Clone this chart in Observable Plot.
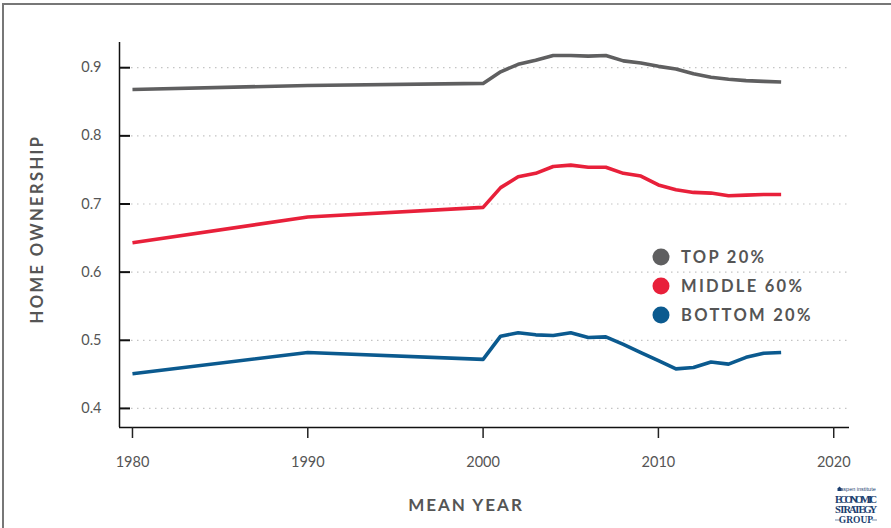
<!DOCTYPE html>
<html>
<head>
<meta charset="utf-8">
<script src="https://cdn.jsdelivr.net/npm/d3@7"></script>
<script src="https://cdn.jsdelivr.net/npm/@observablehq/plot@0.6"></script>
<style>
  html, body { margin: 0; padding: 0; background: #fff; }
  #wrap { position: relative; width: 891px; height: 528px; overflow: hidden; }
  #edge { position: absolute; left: 2px; top: 3px; right: -4px; bottom: -4px;
          border-top: 2px solid #777; border-left: 2px solid #777; pointer-events: none; }
</style>
</head>
<body>
<div id="wrap"><div id="edge"></div></div>
<script>
// Mean survey year of each observation
const years = [1980, 1990, 2000, 2001, 2002, 2003, 2004, 2005, 2006, 2007, 2008, 2009,
               2010, 2011, 2012, 2013, 2014, 2015, 2016, 2017];

// Home ownership rate by income group
const top20 = [0.868, 0.874, 0.877, 0.894, 0.905, 0.911, 0.918, 0.918, 0.917, 0.918, 0.910, 0.907,
               0.902, 0.898, 0.891, 0.886, 0.883, 0.881, 0.880, 0.879];
const middle60 = [0.643, 0.681, 0.695, 0.724, 0.740, 0.745, 0.755, 0.757, 0.754, 0.754, 0.745, 0.741,
                  0.728, 0.721, 0.717, 0.716, 0.712, 0.713, 0.714, 0.714];
const bottom20 = [0.451, 0.482, 0.472, 0.506, 0.511, 0.508, 0.507, 0.511, 0.504, 0.505, 0.494, 0.482,
                  0.470, 0.458, 0.460, 0.468, 0.465, 0.475, 0.481, 0.482];

const groups = ["TOP 20%", "MIDDLE 60%", "BOTTOM 20%"];
const groupColors = ["#5f5f60", "#e8203a", "#0b5a8f"];

const xTicks = [1980, 1990, 2000, 2010, 2020];
const yTicks = [0.4, 0.5, 0.6, 0.7, 0.8, 0.9];
const xDomain = [1979.26, 2020.9];
const yDomain = [0.372, 0.937];

const rows = [];
[top20, middle60, bottom20].forEach((series, g) => {
  series.forEach((v, i) => rows.push({year: years[i], value: v, group: groups[g]}));
});

const font = "Lato, 'Open Sans', sans-serif";

const chart = Plot.plot({
  width: 891,
  height: 528,
  marginLeft: 119,
  marginRight: 42,
  marginTop: 42,
  marginBottom: 101,
  style: {fontFamily: font, fontSize: "14px", color: "#555", background: "transparent"},
  x: {domain: xDomain, ticks: xTicks, tickFormat: d => String(d), label: null},
  y: {domain: yDomain, ticks: yTicks, tickFormat: d => d.toFixed(1), label: null},
  color: {domain: groups, range: groupColors},
  marks: [
    Plot.ruleY(yTicks, {stroke: "#c4c4c4", strokeWidth: 1.2, strokeDasharray: "1.5,4.5", x1: xDomain[0], x2: xDomain[1]}),
    Plot.ruleY([yDomain[0]], {stroke: "#111", strokeWidth: 1.5}),
    Plot.ruleX([xDomain[0]], {stroke: "#111", strokeWidth: 1.5}),
    Plot.axisX({ticks: xTicks, tickSize: 11, tickPadding: 18, stroke: "#222", strokeWidth: 1.5,
                tickFormat: d => String(d), fill: "#555", fontSize: 14.5}),
    Plot.axisY({ticks: yTicks, tickSize: -11, tickPadding: 29, stroke: "#111", strokeWidth: 2,
                tickFormat: d => d.toFixed(1), fill: "#555", fontSize: 14.5}),
    Plot.line(rows, {x: "year", y: "value", z: "group", stroke: "group", strokeWidth: 3.6,
                     strokeLinejoin: "round", strokeLinecap: "butt"})
  ]
});

const svg = d3.select(chart);
document.getElementById("wrap").insertBefore(chart, document.getElementById("edge"));

// Axis titles
svg.append("text")
  .attr("transform", "translate(43,229) rotate(-90)")
  .attr("text-anchor", "middle")
  .attr("font-family", font).attr("font-size", 16.5).attr("font-weight", 700)
  .attr("letter-spacing", "2.4px").attr("fill", "#555")
  .text("HOME OWNERSHIP");

svg.append("text")
  .attr("x", 466).attr("y", 511)
  .attr("text-anchor", "middle")
  .attr("font-family", font).attr("font-size", 17).attr("font-weight", 700)
  .attr("letter-spacing", "2px").attr("fill", "#555")
  .text("MEAN YEAR");

// Legend
const legend = svg.append("g").attr("text-anchor", "start");
groups.forEach((g, i) => {
  const cy = 257 + i * 29;
  legend.append("circle").attr("cx", 661).attr("cy", cy).attr("r", 8.5).attr("fill", groupColors[i]);
  legend.append("text").attr("x", 681).attr("y", cy + 6)
    .attr("font-family", font).attr("font-size", 16.5).attr("font-weight", 700)
    .attr("letter-spacing", "2.3px").attr("fill", "#555").text(g);
});

// Publisher mark
const logo = svg.append("g").attr("fill", "#1c3f70").attr("text-anchor", "middle");
logo.append("path").attr("d", "M837.5,491 l0,-2.5 l2,-2 l2,2 l0,2.5 z");
logo.append("text").attr("x", 858).attr("y", 491).attr("font-family", "Liberation Sans, sans-serif")
  .attr("font-size", 5.5).text("aspen institute");
["ECONOMIC", "STRATEGY"].forEach((t, i) => {
  logo.append("text").attr("x", 856).attr("y", 503 + i * 10)
    .attr("font-family", "Liberation Serif, serif").attr("font-size", 10.5).attr("font-weight", 700)
    .attr("textLength", 42).text(t);
});
logo.append("text").attr("x", 856).attr("y", 523)
  .attr("font-family", "Liberation Serif, serif").attr("font-size", 9.5).attr("font-weight", 700)
  .text("GROUP");
logo.append("line").attr("x1", 835).attr("x2", 840).attr("y1", 520).attr("y2", 520).attr("stroke", "#1c3f70").attr("stroke-width", 0.6);
logo.append("line").attr("x1", 872).attr("x2", 877).attr("y1", 520).attr("y2", 520).attr("stroke", "#1c3f70").attr("stroke-width", 0.6);
</script>
</body>
</html>
